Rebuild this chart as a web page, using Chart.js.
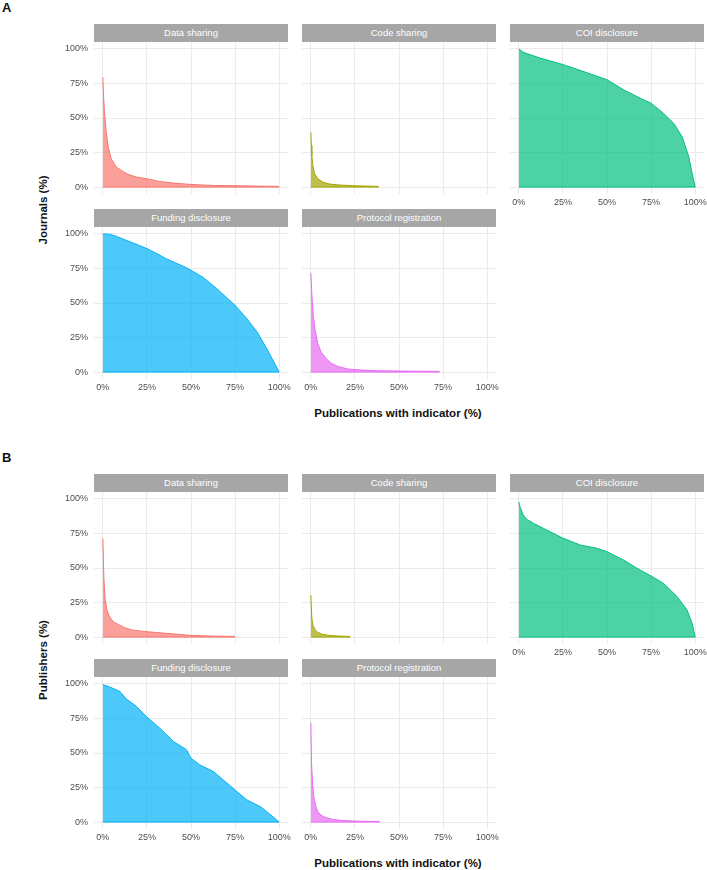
<!DOCTYPE html>
<html>
<head>
<meta charset="utf-8">
<script src="https://cdn.jsdelivr.net/npm/chart.js@4.4.0/dist/chart.umd.min.js"></script>
<style>
body { margin: 0; background: #fff; font-family: "Liberation Sans", Arial, sans-serif; }
#wrap { position: relative; width: 707px; height: 870px; overflow: hidden; }
.strip { position: absolute; height: 18px; line-height: 18px; background: #A6A6A6; color: #fff; font-size: 9.5px; text-align: center; }
.lab { position: absolute; font-weight: bold; color: #111; white-space: nowrap; }
canvas { position: absolute; }
</style>
</head>
<body>
<div id="wrap"></div>
<script>
let indicators = ["Data sharing", "Code sharing", "COI disclosure", "Funding disclosure", "Protocol registration"];
let colors = ['#F8766D', '#A3A500', '#00BF7D', '#00B0F6', '#E76BF3'];
let xTicks = [0, 25, 50, 75, 100];
let yTicks = [0, 25, 50, 75, 100];

// A: journals
let jDataX = [0, 0.4, 0.95, 1.9, 3.2, 4.75, 7.6, 10.5, 14.3, 19, 25, 32, 40, 50, 62.7, 75, 87.5, 100];
let jDataY = [79.6, 66, 54.6, 40, 28, 20.6, 14.6, 12, 9.2, 7.3, 6, 4.1, 2.9, 1.9, 1.2, 1, 0.7, 0.5];
let jCodeX = [0, 0.3, 0.57, 1.1, 2.1, 4, 6.8, 10.6, 16.3, 24, 31.5, 38.5];
let jCodeY = [39.6, 30, 23, 15.8, 9.7, 6, 3.6, 2.2, 1.5, 1, 0.7, 0.5];
let jCoiX = [0, 2.5, 12, 25.2, 34.7, 50, 59.4, 68.9, 75, 82, 87.9, 92.6, 96.4, 98.3, 100];
let jCoiY = [100, 97.6, 93.4, 88.6, 84.5, 77.7, 70.4, 64.3, 60.7, 53.4, 46, 36.4, 21.8, 9.7, 0];
let jFundX = [0, 3.8, 7.6, 17, 25, 30, 36, 45.6, 50, 57, 64.6, 75, 81.7, 87.5, 93, 100];
let jFundY = [100, 99.8, 98.3, 93.5, 89.4, 86.2, 82, 76.6, 73.7, 68.4, 60.4, 48.3, 38.6, 29, 16.9, 0];
let jProtX = [0, 0.57, 1.3, 2.5, 4, 5.8, 8.7, 11.5, 15.3, 21, 28.5, 38, 53, 73];
let jProtY = [71.9, 56.9, 42, 30, 20.6, 14.5, 9.7, 6.5, 4.1, 2.2, 1.5, 1, 0.7, 0.5];

// B: publishers
let pDataX = [0, 0.6, 1.3, 2.3, 3.8, 6, 8.6, 12.4, 17, 25, 36, 43.7, 50, 62.7, 75];
let pDataY = [71.5, 42.5, 28, 19.6, 14.7, 11, 9.2, 6.8, 5, 3.9, 2.7, 1.9, 1.2, 0.7, 0.5];
let pCodeX = [0, 0.57, 1.3, 2.5, 4, 6.8, 10.6, 16.3, 22.4];
let pCodeY = [30.4, 13.5, 8.2, 5, 3.4, 1.9, 1.2, 0.7, 0.5];
let pCoiX = [0, 0.6, 2.5, 4.4, 8.2, 13.9, 21.4, 25.2, 34.7, 44.2, 50, 59.4, 67, 75, 82, 89.8, 95.4, 98.3, 100];
let pCoiY = [98, 94.4, 88.4, 85.3, 82.4, 78.7, 73.9, 71.5, 66.7, 64.3, 61.8, 55.8, 49.8, 44.2, 38.9, 29.2, 19.6, 9.9, 0];
let pFundX = [0, 3.8, 9.5, 13.3, 19, 25, 32.3, 40, 47.5, 50, 55, 62.7, 75, 81.7, 89.4, 93, 100];
let pFundY = [99.5, 97.8, 94.7, 89.1, 83.8, 76, 68, 58.4, 52.3, 46.2, 41.4, 36.6, 23.2, 16, 11.1, 7.5, 0];
let pProtX = [0, 0.4, 1, 1.7, 2.6, 4, 5.8, 8.7, 12.5, 17.2, 24.7, 34, 39];
let pProtY = [72, 42.5, 28, 18.4, 12.3, 7.5, 5, 3.1, 1.9, 1.2, 0.7, 0.5, 0.5];

let journals = [[jDataX, jDataY], [jCodeX, jCodeY], [jCoiX, jCoiY], [jFundX, jFundY], [jProtX, jProtY]];
let publishers = [[pDataX, pDataY], [pCodeX, pCodeY], [pCoiX, pCoiY], [pFundX, pFundY], [pProtX, pProtY]];

Chart.defaults.font.family = '"Liberation Sans", Arial, sans-serif';

let wrap = document.getElementById('wrap');
let colLeft = [94, 302, 510];
let panelW = 194, panelH = 152;
let padL = 45, padR = 16, padB = 20;

function addDiv(cls, text, css) {
    let d = document.createElement('div');
    d.className = cls;
    d.textContent = text;
    Object.assign(d.style, css);
    wrap.appendChild(d);
    return d;
}

function alpha(hex, a) {
    let r = parseInt(hex.slice(1, 3), 16), g = parseInt(hex.slice(3, 5), 16), b = parseInt(hex.slice(5, 7), 16);
    return 'rgba(' + r + ',' + g + ',' + b + ',' + a + ')';
}

function facet(i, series, top0) {
    let row = i < 3 ? 0 : 1;
    let col = i < 3 ? i : i - 3;
    let left = colLeft[col];
    let top = top0 + row * 185;
    let showX = row === 1 || col === 2;
    let showY = col === 0;

    addDiv('strip', indicators[i], { left: left + 'px', top: (top - 18) + 'px', width: panelW + 'px' });

    let cv = document.createElement('canvas');
    cv.width = panelW + padL + padR;
    cv.height = panelH + padB;
    cv.style.left = (left - padL) + 'px';
    cv.style.top = top + 'px';
    wrap.appendChild(cv);

    let xs = series[0], ys = series[1];
    let pts = xs.map((x, k) => ({ x: x, y: ys[k] }));
    // baseline under the area (outline along 0)
    let base = [{ x: 0, y: 0 }, { x: xs[xs.length - 1], y: 0 }];

    let tickFont = { size: 9 };
    new Chart(cv.getContext('2d'), {
        type: 'line',
        data: {
            datasets: [{
                data: pts,
                borderColor: colors[i],
                backgroundColor: alpha(colors[i], 0.7),
                borderWidth: 1,
                fill: 'origin',
                pointRadius: 0,
                tension: 0
            }, {
                data: base,
                borderColor: colors[i],
                borderWidth: 1,
                fill: false,
                pointRadius: 0
            }]
        },
        options: {
            responsive: false,
            animation: false,
            devicePixelRatio: 1,
            layout: { padding: { right: padR, left: 0, top: 0, bottom: 0 } },
            plugins: { legend: { display: false }, tooltip: { enabled: false } },
            scales: {
                x: {
                    type: 'linear', min: -5, max: 105,
                    afterBuildTicks: s => { s.ticks = xTicks.map(v => ({ value: v })); },
                    afterFit: s => { s.height = padB; s.paddingLeft = 0; s.paddingRight = 0; },
                    grid: { color: '#EBEBEB', lineWidth: 1, drawTicks: false },
                    border: { display: false },
                    ticks: { display: showX, autoSkip: false, maxRotation: 0, padding: 3, font: tickFont, color: '#4D4D4D', callback: v => v + '%' }
                },
                y: {
                    type: 'linear', min: -5, max: 105,
                    afterBuildTicks: s => { s.ticks = yTicks.map(v => ({ value: v })); },
                    afterFit: s => { s.width = padL; s.paddingTop = 0; s.paddingBottom = 0; },
                    grid: { color: '#EBEBEB', lineWidth: 1, drawTicks: false },
                    border: { display: false },
                    ticks: { display: showY, autoSkip: false, padding: 6, font: tickFont, color: '#4D4D4D', callback: v => v + '%' }
                }
            }
        }
    });
}

function panel(letter, yTitle, series, off) {
    addDiv('lab', letter, { left: '2px', top: (off + 1) + 'px', fontSize: '13px', lineHeight: '13px' });
    for (let i = 0; i < 5; i++) facet(i, series[i], off + 42);
    addDiv('lab', 'Publications with indicator (%)', { left: '398px', top: (off + 413) + 'px', fontSize: '11.5px', transform: 'translate(-50%, -50%)' });
    addDiv('lab', yTitle, { left: '43px', top: (off + 210) + 'px', fontSize: '11.5px', transform: 'translate(-50%, -50%) rotate(-90deg)' });
}

panel('A', 'Journals (%)', journals, 0);
panel('B', 'Publishers (%)', publishers, 450);
</script>
</body>
</html>
